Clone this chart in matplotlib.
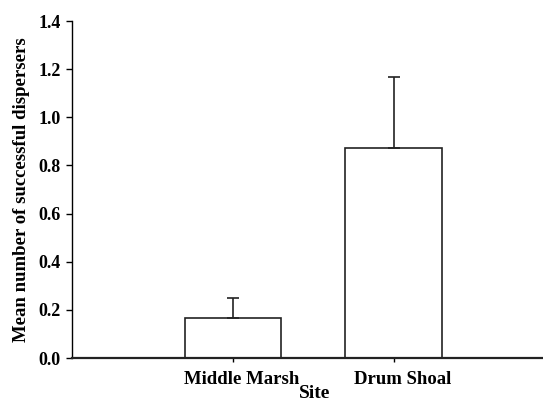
import matplotlib.pyplot as plt

# Dispersal data by site
sites = ["Middle Marsh", "Drum Shoal"]
mean_dispersers = [0.167, 0.874]
se_dispersers = [0.083, 0.295]

plt.rcParams["font.family"] = ["Liberation Serif", "DejaVu Serif"]
plt.rcParams["font.weight"] = "bold"

fig = plt.figure(figsize=(5.43, 4.01), dpi=100)
ax = fig.add_axes([0.1326, 0.107, 0.8674, 0.8406])

x = list(range(len(sites)))
ax.bar(x, mean_dispersers, width=0.6, color="white", edgecolor="#222222", linewidth=1.2)
ax.errorbar(x, mean_dispersers, yerr=[[0] * len(sites), se_dispersers], fmt="none",
            ecolor="#222222", elinewidth=1.2, capsize=4, capthick=1.2)

ax.set_xlim(-1.0, 1.93)
ax.set_ylim(0, 1.4)
ax.set_yticks([0.0, 0.2, 0.4, 0.6, 0.8, 1.0, 1.2, 1.4])
ax.set_yticklabels(["0.0", "0.2", "0.4", "0.6", "0.8", "1.0", "1.2", "1.4"], fontsize=13, fontweight="bold")

# tick marks at the bars, names sit slightly to the right of them
ax.set_xticks(x)
ax.set_xticklabels([])
ax.set_xticks([i + 0.056 for i in x], minor=True)
ax.set_xticklabels(sites, minor=True, fontsize=13.5, fontweight="bold")

ax.spines["top"].set_visible(False)
ax.spines["right"].set_visible(False)
ax.spines["left"].set_linewidth(1.0)
ax.spines["bottom"].set_linewidth(1.6)
ax.spines["bottom"].set_color("#222222")
ax.tick_params(axis="y", direction="out", length=4, width=1.0, pad=4)
ax.tick_params(axis="x", which="major", direction="out", length=3, width=1.0)
ax.tick_params(axis="x", which="minor", length=0, pad=9)

ax.set_ylabel("Mean number of successful dispersers", fontsize=13.5, fontweight="bold", labelpad=6)
ax.set_xlabel("Site", fontsize=14, fontweight="bold")
ax.xaxis.set_label_coords(0.516, -0.08)

fig.savefig("out.png", dpi=100)
